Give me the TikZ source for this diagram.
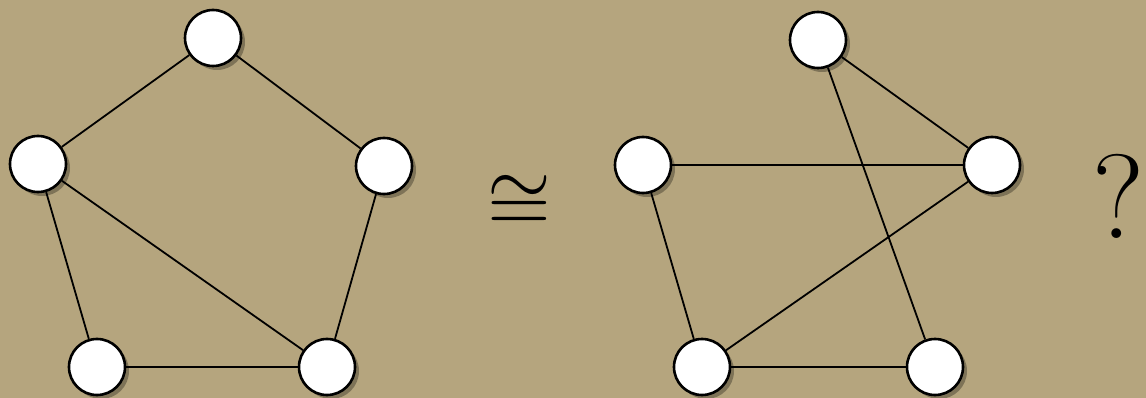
\documentclass[tikz,border=0pt]{standalone}
\usepackage{graphicx}
\usetikzlibrary{shadows}
\definecolor{bg}{RGB}{181,165,126}
\begin{document}
\begin{tikzpicture}[x=1pt,y=-1pt,
  vtx/.style={circle,draw=black,line width=2.6pt,fill=white,minimum size=56pt,inner sep=0pt,
    drop shadow={shadow xshift=4pt,shadow yshift=-4pt,fill=black,opacity=0.3}},
  edge/.style={line width=1.8pt,black}]
\fill[bg] (0,0) rectangle (1146,398);
\useasboundingbox (0,0) rectangle (1146,398);
% left graph
\node[vtx] (a1) at (213,38) {};
\node[vtx] (a2) at (38,164) {};
\node[vtx] (a3) at (384,166) {};
\node[vtx] (a4) at (97,367) {};
\node[vtx] (a5) at (327,367) {};
% right graph
\node[vtx] (b1) at (818,40) {};
\node[vtx] (b2) at (643,165) {};
\node[vtx] (b3) at (992,165) {};
\node[vtx] (b4) at (702,367) {};
\node[vtx] (b5) at (935,367) {};
\draw[edge] (a1) -- (a2);
\draw[edge] (a1) -- (a3);
\draw[edge] (a2) -- (a4);
\draw[edge] (a2) -- (a5);
\draw[edge] (a3) -- (a5);
\draw[edge] (a4) -- (a5);
\draw[edge] (b1) -- (b3);
\draw[edge] (b1) -- (b5);
\draw[edge] (b2) -- (b3);
\draw[edge] (b2) -- (b4);
\draw[edge] (b4) -- (b3);
\draw[edge] (b4) -- (b5);
\node (cong) at (519,203) {\scalebox{8.2}{$\cong$}};
\node (q) at (1118,196) {\fontsize{120}{120}\selectfont ?};
\end{tikzpicture}
\end{document}
